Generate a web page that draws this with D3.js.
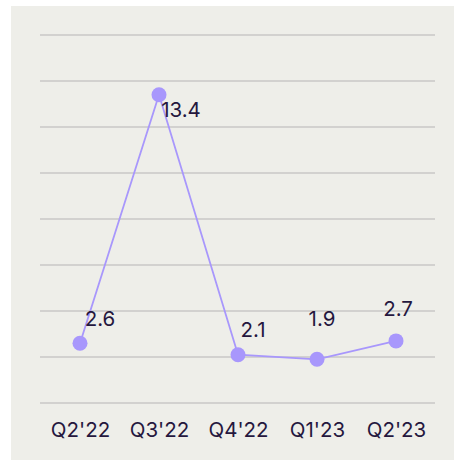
<!DOCTYPE html>
<html><head><meta charset="utf-8">
<script src="https://cdn.jsdelivr.net/npm/d3@7"></script>
<style>html,body{margin:0;padding:0;background:#fff;}svg{display:block;}</style>
</head><body>
<script>
const categories = ["Q2'22", "Q3'22", "Q4'22", "Q1'23", "Q2'23"];
const values = [2.6, 13.4, 2.1, 1.9, 2.7];
const yTicks = [0, 2, 4, 6, 8, 10, 12, 14, 16];
// label placement offsets (styling)
const labelDx = [20, 22, 15, 5, 2];
const labelDy = [-17, 22, -18, -33, -25];

const W = 454, H = 460;
const svg = d3.select("body").append("svg").attr("width", W).attr("height", H);
svg.append("rect").attr("x", 11).attr("y", 6).attr("width", W - 11).attr("height", H - 6).attr("fill", "#eeeee9");

const x = d3.scalePoint().domain(categories).range([80, 396]);
const y = d3.scaleLinear().domain([0, 16]).range([403, 35]);

const grid = svg.append("g");
grid.selectAll("line").data(yTicks).join("line")
  .attr("x1", 40).attr("x2", 435)
  .attr("y1", d => y(d)).attr("y2", d => y(d))
  .attr("stroke", "#c9c7c6").attr("stroke-width", 1.6);

const xAxis = svg.append("g").attr("transform", "translate(0,403)")
  .call(d3.axisBottom(x).tickSize(0).tickPadding(19));
xAxis.select(".domain").remove();
xAxis.selectAll("text").attr("font-family", "Inter").attr("font-size", 20.5).attr("fill", "#25173e");

const data = categories.map((c, i) => ({c, v: values[i], i}));
svg.append("path").datum(data)
  .attr("d", d3.line().x(d => x(d.c)).y(d => y(d.v)))
  .attr("fill", "none").attr("stroke", "#a897fc").attr("stroke-width", 1.8);

svg.selectAll("circle.pt").data(data).join("circle").attr("class", "pt")
  .attr("cx", d => x(d.c)).attr("cy", d => y(d.v)).attr("r", 7.5).attr("fill", "#a897fc");

svg.selectAll("text.lbl").data(data).join("text").attr("class", "lbl")
  .attr("x", d => x(d.c) + labelDx[d.i]).attr("y", d => y(d.v) + labelDy[d.i])
  .attr("text-anchor", "middle")
  .attr("font-family", "Inter").attr("font-size", 20.5).attr("fill", "#25173e")
  .text(d => d.v.toFixed(1));
</script>
</body></html>
